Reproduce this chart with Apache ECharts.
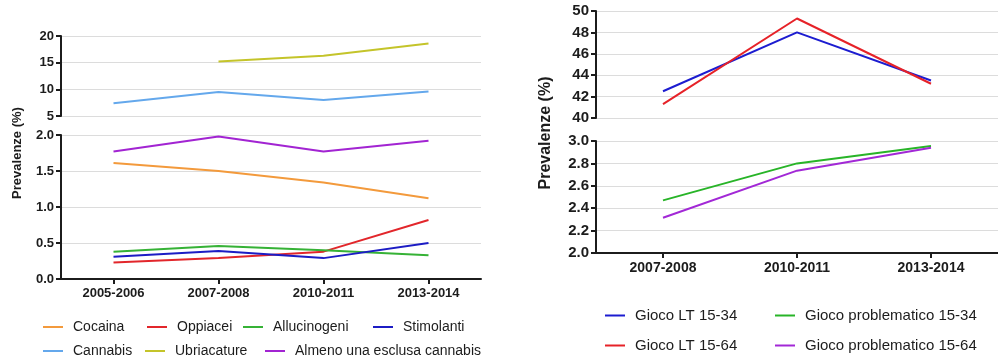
<!DOCTYPE html>
<html>
<head>
<meta charset="utf-8">
<script src="https://cdn.jsdelivr.net/npm/echarts@6/dist/echarts.min.js"></script>
<style>
  html, body { margin: 0; padding: 0; background: #fff; }
  #chart { width: 998px; height: 360px; }
</style>
</head>
<body>
<div id="chart"></div>
<script>
// Left panel: drug use prevalence (%)
const periodsLeft = ['2005-2006', '2007-2008', '2010-2011', '2013-2014'];
const ubriacature = [null, 15.2, 16.3, 18.6];
const cannabis = [7.4, 9.5, 8.0, 9.6];
const almeno = [1.77, 1.98, 1.77, 1.92];
const cocaina = [1.61, 1.50, 1.34, 1.12];
const oppiacei = [0.23, 0.29, 0.38, 0.82];
const allucinogeni = [0.38, 0.46, 0.40, 0.33];
const stimolanti = [0.31, 0.39, 0.29, 0.50];

// Right panel: gambling prevalence (%)
const periodsRight = ['2007-2008', '2010-2011', '2013-2014'];
const giocoLT1534 = [42.5, 48.0, 43.5];
const giocoLT1564 = [41.3, 49.3, 43.2];
const giocoProb1534 = [2.47, 2.80, 2.955];
const giocoProb1564 = [2.315, 2.735, 2.94];

const FONT = 'Liberation Sans, Arial, sans-serif';
const INK = '#1c1c1c';
const GRID_LINE = '#dcdcdc';

const colors = {
  'Cocaina': '#f39a3c',
  'Oppiacei': '#e2262b',
  'Allucinogeni': '#36b236',
  'Stimolanti': '#1c1cc4',
  'Cannabis': '#64a8ec',
  'Ubriacature': '#c4c42a',
  'Almeno una esclusa cannabis': '#a224d2',
  'Gioco LT 15-34': '#1c1cd0',
  'Gioco LT 15-64': '#e62228',
  'Gioco problematico 15-34': '#28b428',
  'Gioco problematico 15-64': '#a228d6'
};

function yAxis(gridIndex, min, max, interval, decimals, fontSize) {
  return {
    type: 'value', gridIndex, min, max, interval,
    axisLine: { show: true, lineStyle: { color: INK, width: 2 } },
    axisTick: { show: true, length: 5, lineStyle: { color: INK, width: 2 } },
    axisLabel: {
      color: INK, fontFamily: FONT, fontWeight: 'bold', fontSize, margin: 7,
      formatter: v => v.toFixed(decimals)
    },
    splitLine: { show: true, lineStyle: { color: GRID_LINE, width: 1 } }
  };
}

function xAxis(gridIndex, data, visible, fontSize) {
  return {
    type: 'category', gridIndex, data, boundaryGap: true,
    show: visible,
    axisLine: { show: visible, onZero: false, lineStyle: { color: INK, width: 2 } },
    axisTick: { show: visible, alignWithLabel: true, length: 5, lineStyle: { color: INK, width: 2 } },
    axisLabel: { show: visible, color: INK, fontFamily: FONT, fontWeight: 'bold', fontSize, margin: 8 },
    splitLine: { show: false }
  };
}

function line(name, data, axisIndex) {
  return {
    name, type: 'line', data,
    xAxisIndex: axisIndex, yAxisIndex: axisIndex,
    showSymbol: false, symbol: 'none', connectNulls: false,
    lineStyle: { color: colors[name], width: 2 },
    itemStyle: { color: colors[name] },
    animation: false
  };
}

function legendItem(name, left, top, fontSize) {
  return {
    data: [name], left, top, padding: 0,
    icon: 'rect', itemWidth: 20, itemHeight: 2,
    selectedMode: false,
    textStyle: { fontFamily: FONT, fontSize, color: INK, padding: [0, 0, 0, 5] }
  };
}

const option = {
  backgroundColor: '#fff',
  animation: false,
  grid: [
    { left: 61, top: 36, width: 420, height: 80 },
    { left: 61, top: 135, width: 420, height: 144 },
    { left: 596, top: 11, right: -3, height: 107 },
    { left: 596, top: 141, right: -3, height: 112 }
  ],
  xAxis: [
    xAxis(0, periodsLeft, false, 13),
    xAxis(1, periodsLeft, true, 13),
    xAxis(2, periodsRight, false, 14),
    xAxis(3, periodsRight, true, 14)
  ],
  yAxis: [
    yAxis(0, 5, 20, 5, 0, 13),
    yAxis(1, 0, 2, 0.5, 1, 13),
    yAxis(2, 40, 50, 2, 0, 15),
    yAxis(3, 2, 3, 0.2, 1, 15)
  ],
  legend: [
    legendItem('Cocaina', 43, 320, 14),
    legendItem('Oppiacei', 147, 320, 14),
    legendItem('Allucinogeni', 243, 320, 14),
    legendItem('Stimolanti', 373, 320, 14),
    legendItem('Cannabis', 43, 344, 14),
    legendItem('Ubriacature', 145, 344, 14),
    legendItem('Almeno una esclusa cannabis', 265, 344, 14),
    legendItem('Gioco LT 15-34', 605, 308, 15),
    legendItem('Gioco problematico 15-34', 775, 308, 15),
    legendItem('Gioco LT 15-64', 605, 338, 15),
    legendItem('Gioco problematico 15-64', 775, 338, 15)
  ],
  graphic: [
    {
      type: 'text', x: 17, y: 153, rotation: Math.PI / 2,
      style: {
        text: 'Prevalenze (%)', fill: INK, font: 'bold 13px ' + FONT,
        align: 'center', verticalAlign: 'middle'
      }
    },
    {
      type: 'text', x: 546, y: 133, rotation: Math.PI / 2,
      style: {
        text: 'Prevalenze (%)', fill: INK, font: 'bold 16px ' + FONT,
        align: 'center', verticalAlign: 'middle'
      }
    }
  ],
  series: [
    line('Ubriacature', ubriacature, 0),
    line('Cannabis', cannabis, 0),
    line('Almeno una esclusa cannabis', almeno, 1),
    line('Cocaina', cocaina, 1),
    line('Oppiacei', oppiacei, 1),
    line('Allucinogeni', allucinogeni, 1),
    line('Stimolanti', stimolanti, 1),
    line('Gioco LT 15-34', giocoLT1534, 2),
    line('Gioco LT 15-64', giocoLT1564, 2),
    line('Gioco problematico 15-34', giocoProb1534, 3),
    line('Gioco problematico 15-64', giocoProb1564, 3)
  ]
};

const chart = echarts.init(document.getElementById('chart'), null, { renderer: 'canvas' });
chart.setOption(option);
</script>
</body>
</html>
